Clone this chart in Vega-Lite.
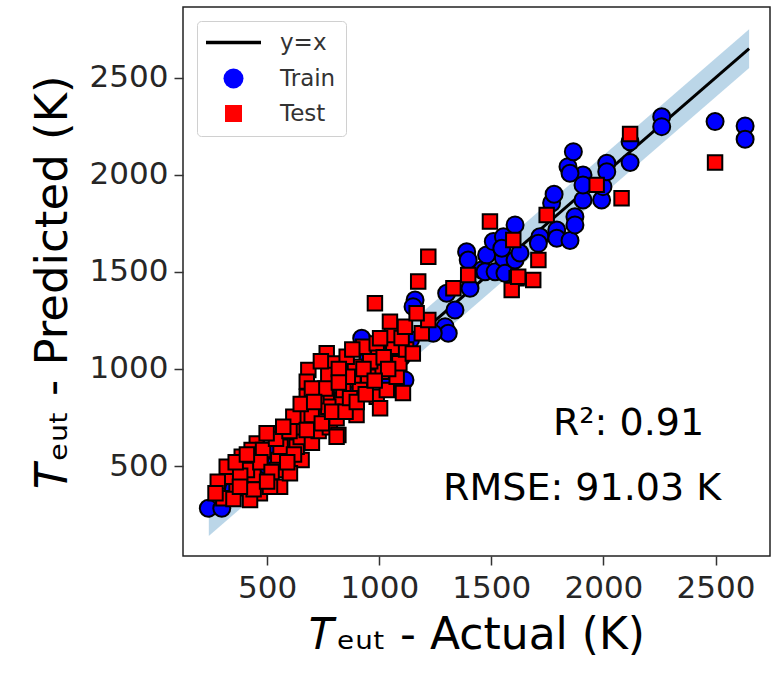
{
  "$schema": "https://vega.github.io/schema/vega-lite/v6.json",
  "autosize": {"type": "none"},
  "padding": {"left": 183, "top": 7, "right": 5, "bottom": 122},
  "width": 587,
  "height": 549,
  "background": "white",
  "config": {
    "view": {"stroke": "#222222", "strokeWidth": 1.5},
    "font": "DejaVu Sans"
  },
  "datasets": {
    "ref": [
      {"a": 240, "lo": 140, "hi": 340},
      {"a": 2650, "lo": 2550, "hi": 2750}
    ],
    "pts": [
      {"set": "Train", "actual": 238, "pred": 283},
      {"set": "Train", "actual": 298, "pred": 283},
      {"set": "Train", "actual": 350, "pred": 380},
      {"set": "Train", "actual": 420, "pred": 440},
      {"set": "Train", "actual": 480, "pred": 500},
      {"set": "Train", "actual": 540, "pred": 520},
      {"set": "Train", "actual": 600, "pred": 600},
      {"set": "Train", "actual": 650, "pred": 640},
      {"set": "Train", "actual": 700, "pred": 700},
      {"set": "Train", "actual": 760, "pred": 760},
      {"set": "Train", "actual": 820, "pred": 800},
      {"set": "Train", "actual": 870, "pred": 880},
      {"set": "Train", "actual": 920, "pred": 900},
      {"set": "Train", "actual": 960, "pred": 980},
      {"set": "Train", "actual": 1000, "pred": 1000},
      {"set": "Train", "actual": 1050, "pred": 1020},
      {"set": "Train", "actual": 1080, "pred": 1080},
      {"set": "Train", "actual": 950, "pred": 1050},
      {"set": "Train", "actual": 880, "pred": 960},
      {"set": "Train", "actual": 780, "pred": 840},
      {"set": "Train", "actual": 640, "pred": 720},
      {"set": "Train", "actual": 520, "pred": 580},
      {"set": "Train", "actual": 400, "pred": 470},
      {"set": "Train", "actual": 1100, "pred": 1060},
      {"set": "Train", "actual": 1140, "pred": 1150},
      {"set": "Train", "actual": 1020, "pred": 950},
      {"set": "Train", "actual": 850, "pred": 820},
      {"set": "Train", "actual": 720, "pred": 780},
      {"set": "Train", "actual": 580, "pred": 560},
      {"set": "Train", "actual": 460, "pred": 430},
      {"set": "Train", "actual": 922, "pred": 1158},
      {"set": "Train", "actual": 1115, "pred": 943},
      {"set": "Train", "actual": 1160, "pred": 1355},
      {"set": "Train", "actual": 1151, "pred": 1321},
      {"set": "Train", "actual": 1294, "pred": 1218},
      {"set": "Train", "actual": 1308, "pred": 1184},
      {"set": "Train", "actual": 1241, "pred": 1184},
      {"set": "Train", "actual": 1338, "pred": 1304},
      {"set": "Train", "actual": 1301, "pred": 1390},
      {"set": "Train", "actual": 1405, "pred": 1416},
      {"set": "Train", "actual": 1457, "pred": 1510},
      {"set": "Train", "actual": 1390, "pred": 1604},
      {"set": "Train", "actual": 1397, "pred": 1561},
      {"set": "Train", "actual": 1479, "pred": 1587},
      {"set": "Train", "actual": 1472, "pred": 1501},
      {"set": "Train", "actual": 1517, "pred": 1501},
      {"set": "Train", "actual": 1509, "pred": 1656},
      {"set": "Train", "actual": 1554, "pred": 1570},
      {"set": "Train", "actual": 1561, "pred": 1493},
      {"set": "Train", "actual": 1606, "pred": 1561},
      {"set": "Train", "actual": 1554, "pred": 1681},
      {"set": "Train", "actual": 1547, "pred": 1622},
      {"set": "Train", "actual": 1628, "pred": 1597},
      {"set": "Train", "actual": 1606, "pred": 1742},
      {"set": "Train", "actual": 1717, "pred": 1681},
      {"set": "Train", "actual": 1710, "pred": 1647},
      {"set": "Train", "actual": 1792, "pred": 1716},
      {"set": "Train", "actual": 1792, "pred": 1673},
      {"set": "Train", "actual": 1851, "pred": 1662},
      {"set": "Train", "actual": 1873, "pred": 1784},
      {"set": "Train", "actual": 1873, "pred": 1742},
      {"set": "Train", "actual": 1769, "pred": 1855},
      {"set": "Train", "actual": 1780, "pred": 1900},
      {"set": "Train", "actual": 1909, "pred": 1870},
      {"set": "Train", "actual": 1992, "pred": 1870},
      {"set": "Train", "actual": 1998, "pred": 1939},
      {"set": "Train", "actual": 1909, "pred": 1999},
      {"set": "Train", "actual": 1909, "pred": 1948},
      {"set": "Train", "actual": 1842, "pred": 2042},
      {"set": "Train", "actual": 1851, "pred": 2008},
      {"set": "Train", "actual": 1866, "pred": 2119},
      {"set": "Train", "actual": 2015, "pred": 2059},
      {"set": "Train", "actual": 2015, "pred": 2016},
      {"set": "Train", "actual": 2119, "pred": 2170},
      {"set": "Train", "actual": 2119, "pred": 2063},
      {"set": "Train", "actual": 2260, "pred": 2299},
      {"set": "Train", "actual": 2260, "pred": 2248},
      {"set": "Train", "actual": 2498, "pred": 2274},
      {"set": "Train", "actual": 2632, "pred": 2251},
      {"set": "Train", "actual": 2632, "pred": 2183},
      {"set": "Test", "actual": 305, "pred": 334},
      {"set": "Test", "actual": 364, "pred": 386},
      {"set": "Test", "actual": 387, "pred": 548},
      {"set": "Test", "actual": 439, "pred": 454},
      {"set": "Test", "actual": 454, "pred": 617},
      {"set": "Test", "actual": 513, "pred": 669},
      {"set": "Test", "actual": 550, "pred": 531},
      {"set": "Test", "actual": 558, "pred": 394},
      {"set": "Test", "actual": 595, "pred": 634},
      {"set": "Test", "actual": 654, "pred": 531},
      {"set": "Test", "actual": 677, "pred": 703},
      {"set": "Test", "actual": 691, "pred": 772},
      {"set": "Test", "actual": 335, "pred": 445},
      {"set": "Test", "actual": 320, "pred": 497},
      {"set": "Test", "actual": 468, "pred": 360},
      {"set": "Test", "actual": 513, "pred": 394},
      {"set": "Test", "actual": 424, "pred": 325},
      {"set": "Test", "actual": 431, "pred": 583},
      {"set": "Test", "actual": 482, "pred": 583},
      {"set": "Test", "actual": 543, "pred": 480},
      {"set": "Test", "actual": 602, "pred": 463},
      {"set": "Test", "actual": 632, "pred": 600},
      {"set": "Test", "actual": 280, "pred": 420},
      {"set": "Test", "actual": 350, "pred": 330},
      {"set": "Test", "actual": 410, "pred": 480},
      {"set": "Test", "actual": 470, "pred": 520},
      {"set": "Test", "actual": 520, "pred": 470},
      {"set": "Test", "actual": 560, "pred": 600},
      {"set": "Test", "actual": 620, "pred": 560},
      {"set": "Test", "actual": 650, "pred": 650},
      {"set": "Test", "actual": 700, "pred": 620},
      {"set": "Test", "actual": 730, "pred": 680},
      {"set": "Test", "actual": 590, "pred": 520},
      {"set": "Test", "actual": 440, "pred": 380},
      {"set": "Test", "actual": 380, "pred": 450},
      {"set": "Test", "actual": 500, "pred": 420},
      {"set": "Test", "actual": 620, "pred": 700},
      {"set": "Test", "actual": 360, "pred": 520},
      {"set": "Test", "actual": 410, "pred": 560},
      {"set": "Test", "actual": 540, "pred": 640},
      {"set": "Test", "actual": 600, "pred": 680},
      {"set": "Test", "actual": 660, "pred": 760},
      {"set": "Test", "actual": 740, "pred": 770},
      {"set": "Test", "actual": 780, "pred": 700},
      {"set": "Test", "actual": 270, "pred": 360},
      {"set": "Test", "actual": 929, "pred": 1115},
      {"set": "Test", "actual": 996, "pred": 1098},
      {"set": "Test", "actual": 1063, "pred": 1115},
      {"set": "Test", "actual": 766, "pred": 1081},
      {"set": "Test", "actual": 795, "pred": 1029},
      {"set": "Test", "actual": 892, "pred": 1012},
      {"set": "Test", "actual": 684, "pred": 995},
      {"set": "Test", "actual": 677, "pred": 935},
      {"set": "Test", "actual": 1011, "pred": 986},
      {"set": "Test", "actual": 773, "pred": 969},
      {"set": "Test", "actual": 922, "pred": 901},
      {"set": "Test", "actual": 766, "pred": 866},
      {"set": "Test", "actual": 677, "pred": 857},
      {"set": "Test", "actual": 989, "pred": 857},
      {"set": "Test", "actual": 833, "pred": 840},
      {"set": "Test", "actual": 773, "pred": 806},
      {"set": "Test", "actual": 1004, "pred": 798},
      {"set": "Test", "actual": 617, "pred": 754},
      {"set": "Test", "actual": 699, "pred": 763},
      {"set": "Test", "actual": 810, "pred": 746},
      {"set": "Test", "actual": 899, "pred": 763},
      {"set": "Test", "actual": 572, "pred": 703},
      {"set": "Test", "actual": 677, "pred": 686},
      {"set": "Test", "actual": 818, "pred": 660},
      {"set": "Test", "actual": 498, "pred": 669},
      {"set": "Test", "actual": 1034, "pred": 892},
      {"set": "Test", "actual": 1078, "pred": 960},
      {"set": "Test", "actual": 1056, "pred": 1175},
      {"set": "Test", "actual": 989, "pred": 1132},
      {"set": "Test", "actual": 855, "pred": 1063},
      {"set": "Test", "actual": 951, "pred": 960},
      {"set": "Test", "actual": 885, "pred": 943},
      {"set": "Test", "actual": 840, "pred": 892},
      {"set": "Test", "actual": 744, "pred": 720},
      {"set": "Test", "actual": 914, "pred": 892},
      {"set": "Test", "actual": 1106, "pred": 876},
      {"set": "Test", "actual": 810, "pred": 651},
      {"set": "Test", "actual": 379, "pred": 394},
      {"set": "Test", "actual": 720, "pred": 860},
      {"set": "Test", "actual": 760, "pred": 900},
      {"set": "Test", "actual": 790, "pred": 780},
      {"set": "Test", "actual": 850, "pred": 780},
      {"set": "Test", "actual": 870, "pred": 850},
      {"set": "Test", "actual": 900, "pred": 830},
      {"set": "Test", "actual": 940, "pred": 870},
      {"set": "Test", "actual": 960, "pred": 1040},
      {"set": "Test", "actual": 1020, "pred": 1060},
      {"set": "Test", "actual": 1090, "pred": 1030},
      {"set": "Test", "actual": 1120, "pred": 1100},
      {"set": "Test", "actual": 860, "pred": 960},
      {"set": "Test", "actual": 820, "pred": 1000},
      {"set": "Test", "actual": 700, "pred": 900},
      {"set": "Test", "actual": 650, "pred": 820},
      {"set": "Test", "actual": 740, "pred": 1040},
      {"set": "Test", "actual": 710, "pred": 830},
      {"set": "Test", "actual": 930, "pred": 1000},
      {"set": "Test", "actual": 1040, "pred": 1000},
      {"set": "Test", "actual": 1150, "pred": 1080},
      {"set": "Test", "actual": 1100, "pred": 1160},
      {"set": "Test", "actual": 980, "pred": 940},
      {"set": "Test", "actual": 880, "pred": 1100},
      {"set": "Test", "actual": 820, "pred": 930},
      {"set": "Test", "actual": 981, "pred": 1338},
      {"set": "Test", "actual": 1048, "pred": 1244},
      {"set": "Test", "actual": 1115, "pred": 1218},
      {"set": "Test", "actual": 1190, "pred": 1184},
      {"set": "Test", "actual": 1004, "pred": 1158},
      {"set": "Test", "actual": 1219, "pred": 1252},
      {"set": "Test", "actual": 1167, "pred": 1287},
      {"set": "Test", "actual": 1219, "pred": 1578},
      {"set": "Test", "actual": 1174, "pred": 1450},
      {"set": "Test", "actual": 1331, "pred": 1416},
      {"set": "Test", "actual": 1397, "pred": 1484},
      {"set": "Test", "actual": 1494, "pred": 1759},
      {"set": "Test", "actual": 1598, "pred": 1664},
      {"set": "Test", "actual": 1613, "pred": 1467},
      {"set": "Test", "actual": 1591, "pred": 1407},
      {"set": "Test", "actual": 1687, "pred": 1458},
      {"set": "Test", "actual": 1710, "pred": 1561},
      {"set": "Test", "actual": 1620, "pred": 1475},
      {"set": "Test", "actual": 1747, "pred": 1793},
      {"set": "Test", "actual": 1970, "pred": 1948},
      {"set": "Test", "actual": 2081, "pred": 1879},
      {"set": "Test", "actual": 2119, "pred": 2210},
      {"set": "Test", "actual": 2498, "pred": 2063}
    ],
    "notes": [
      {"actual": 1775, "pred": 660, "text": "R²: 0.91"},
      {"actual": 1285, "pred": 325, "text": "RMSE: 91.03 K"}
    ]
  },
  "layer": [
    {
      "data": {"name": "ref"},
      "mark": {"type": "area", "color": "#1f77b4", "opacity": 0.3},
      "encoding": {
        "x": {"field": "a", "type": "quantitative", "scale": {"domain": [125, 2743], "nice": false, "zero": false},
          "axis": {"title": "𝑇ₑᵤₜ - Actual (K)", "values": [500, 1000, 1500, 2000, 2500], "format": "d", "grid": false, "domain": false,
            "tickSize": 9, "tickWidth": 1.5, "tickColor": "#333333", "labelFontSize": 31, "labelFont": "DejaVu Sans", "labelColor": "#262626",
            "labelPadding": 8, "titleFontSize": 44, "titleFont": "DejaVu Sans", "titleFontWeight": "normal", "titleColor": "black", "titlePadding": 10}},
        "y": {"field": "lo", "type": "quantitative", "scale": {"domain": [37, 2864], "nice": false, "zero": false},
          "axis": {"title": "𝑇ₑᵤₜ - Predicted (K)", "values": [500, 1000, 1500, 2000, 2500], "format": "d", "grid": false, "domain": false,
            "tickSize": 9, "tickWidth": 1.5, "tickColor": "#333333", "labelFontSize": 31, "labelFont": "DejaVu Sans", "labelColor": "#262626",
            "labelPadding": 6, "titleFontSize": 45, "titleFont": "DejaVu Sans", "titleFontWeight": "normal", "titleColor": "black", "titlePadding": 14}},
        "y2": {"field": "hi"}
      }
    },
    {
      "data": {"name": "ref"},
      "mark": {"type": "line", "color": "black", "strokeWidth": 3},
      "encoding": {
        "x": {"field": "a", "type": "quantitative"},
        "y": {"field": "a", "type": "quantitative"}
      }
    },
    {
      "data": {"name": "pts"},
      "mark": {"type": "point", "filled": true, "opacity": 1, "size": 289, "stroke": "black", "strokeWidth": 2},
      "encoding": {
        "x": {"field": "actual", "type": "quantitative"},
        "y": {"field": "pred", "type": "quantitative"},
        "fill": {"field": "set", "type": "nominal",
          "scale": {"domain": ["y=x", "Train", "Test"], "range": ["black", "#0000ff", "#ff0000"]},
          "legend": {"title": null, "orient": "top-left", "offset": 14, "padding": 10, "strokeColor": "#d0d0d0", "fillColor": "white", "cornerRadius": 4,
            "symbolSize": 400, "symbolStrokeColor": "black", "symbolStrokeWidth": 1.5, "symbolOffset": 15, "labelOffset": 35,
            "labelFontSize": 23, "labelFont": "DejaVu Sans", "labelColor": "#333333", "rowPadding": 10}},
        "shape": {"field": "set", "type": "nominal",
          "scale": {"domain": ["y=x", "Train", "Test"], "range": ["M-2.75,-0.18L2.75,-0.18L2.75,0.18L-2.75,0.18Z", "circle", "M-0.85,-0.85L0.85,-0.85L0.85,0.85L-0.85,0.85Z"]},
          "legend": {"title": null, "orient": "top-left", "offset": 14, "padding": 10, "strokeColor": "#d0d0d0", "fillColor": "white", "cornerRadius": 4,
            "symbolSize": 400, "symbolStrokeColor": "black", "symbolStrokeWidth": 1.5, "symbolOffset": 15, "labelOffset": 35,
            "labelFontSize": 23, "labelFont": "DejaVu Sans", "labelColor": "#333333", "rowPadding": 10}},
        "order": {"field": "set", "sort": "descending"}
      }
    },
    {
      "data": {"name": "notes"},
      "mark": {"type": "text", "align": "left", "baseline": "alphabetic", "fontSize": 38, "font": "DejaVu Sans", "color": "black"},
      "encoding": {
        "x": {"field": "actual", "type": "quantitative"},
        "y": {"field": "pred", "type": "quantitative"},
        "text": {"field": "text"}
      }
    }
  ]
}
